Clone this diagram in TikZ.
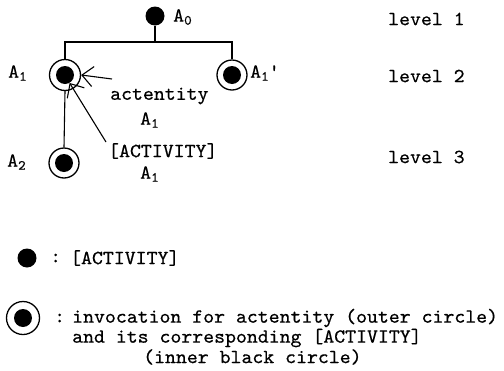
\documentclass[tikz,border=0pt]{standalone}
\usepackage{fontspec}
\newfontfamily\cour{lmmono10-regular.otf}[FakeStretch=1.04,FakeBold=0.5]
\usetikzlibrary{arrows.meta}
\newcommand\subs[1]{\raisebox{-0.35ex}{\fontsize{14}{14}\selectfont #1}}
\tikzset{
  lbl/.style={anchor=west, inner sep=0pt, font=\cour\fontsize{20}{22}\selectfont},
  dot/.style={circle, fill=black, inner sep=0pt, minimum size=18pt},
  ring/.style={circle, draw, line width=1.3pt, inner sep=0pt, minimum size=31pt},
  conn/.style={line width=1.1pt},
  pointer/.style={line width=1.1pt, -{Straight Barb[length=11pt,width=20pt,line width=1.1pt]}}
}
\begin{document}
\begin{tikzpicture}[x=1pt,y=-1pt]
\useasboundingbox (0,0) rectangle (504,370);
% tree
\node[dot, minimum size=19pt] (A0) at (155,16) {};
\node[lbl] (lA0) at (173,17) {A\subs{0}};
\node[ring] (A1) at (65,75) {};
\node[dot] (A1in) at (65,75) {};
\node[lbl] (lA1) at (8,73) {A\subs{1}};
\node[ring, minimum size=30pt] (A1p) at (232,75) {};
\node[dot] (A1pin) at (232,75) {};
\node[lbl] (lA1p) at (250,73) {A\subs{1}\textquotesingle};
\node[ring, minimum size=30pt] (A2) at (64,163) {};
\node[dot] (A2in) at (64,163) {};
\node[lbl] (lA2) at (7,162) {A\subs{2}};
\coordinate (bar) at (155,42);
\draw[conn] (A0) -- (bar);
\draw[conn] (A1.north) |- (bar) -| (A1p.north);
\draw[conn] (A1.south) -- (A2.north);
% annotations
\node[lbl] (act) at (110,96) {actentity};
\node[lbl] (actA) at (140,120) {A\subs{1}};
\node[lbl] (ACT) at (108,151) {[ACTIVITY]};
\node[lbl] (ACTA) at (140,174) {A\subs{1}};
\coordinate (s1) at (112,79);
\coordinate (s2) at (106,142);
\draw[pointer] (s1) -- (A1.east);
\draw[pointer] (s2) -- (A1in.-60);
% levels
\node[lbl] (lv1) at (388,19) {level 1};
\node[lbl] (lv2) at (388,76) {level 2};
\node[lbl] (lv3) at (388,157) {level 3};
% legend
\node[dot, minimum size=19pt] (Ldot) at (27,258) {};
\node[lbl] (Lc1) at (50,258) {:};
\node[lbl] (Ltxt) at (70,258) {[ACTIVITY]};
\node[ring, minimum size=33pt] (Lring) at (23,318) {};
\node[dot] (Lin) at (23,318) {};
\node[lbl] (Lc2) at (54,318) {:};
\node[lbl] (L1) at (72,318) {invocation for actentity (outer circle)};
\node[lbl] (L2) at (72,338) {and its corresponding [ACTIVITY]};
\node[lbl] (L3) at (143,357) {(inner black circle)};
\end{tikzpicture}
\end{document}
